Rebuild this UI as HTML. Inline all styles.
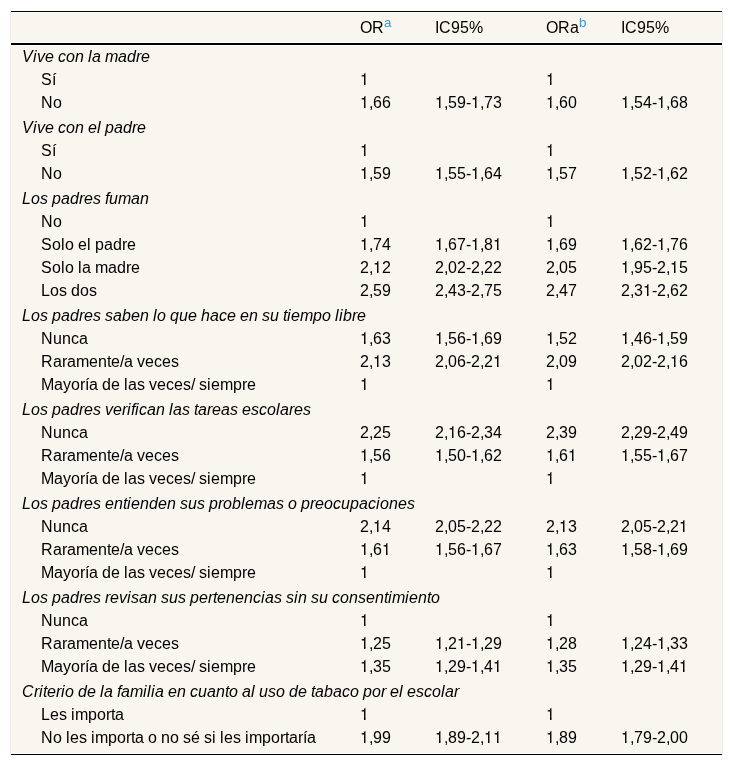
<!DOCTYPE html>
<html><head><meta charset="utf-8"><title>Tabla</title><style>
html,body{margin:0;padding:0;background:#fff;width:733px;height:766px;overflow:hidden}
body{position:relative;font-family:"Liberation Sans",sans-serif;font-size:16px;color:#000;-webkit-font-smoothing:antialiased}
.t{position:absolute;white-space:nowrap;line-height:20px;height:20px;will-change:transform}
.i{font-style:italic}
b{display:inline-block;font-weight:normal;white-space:pre;overflow:visible}
.w4{width:4px}.w5{width:5px}.w8{width:8px}.w9{width:9px}.w11{width:11px}.w12{width:12px}.w13{width:13px}.w14{width:14px}
.o{position:relative}
.o:before{content:"";position:absolute;left:1px;top:3px;width:8px;height:12px;background:linear-gradient(rgba(0,0,0,0.31),rgba(0,0,0,0.31)) 0px 2px/1px 1px no-repeat,linear-gradient(rgba(0,0,0,0.84),rgba(0,0,0,0.84)) 1px 2px/1px 1px no-repeat,linear-gradient(rgba(0,0,0,0.98),rgba(0,0,0,0.98)) 2px 2px/1px 1px no-repeat,linear-gradient(rgba(0,0,0,0.12),rgba(0,0,0,0.12)) 0px 3px/1px 1px no-repeat,linear-gradient(rgba(0,0,0,0.47),rgba(0,0,0,0.47)) 1px 3px/1px 1px no-repeat,linear-gradient(rgba(0,0,0,0.55),rgba(0,0,0,0.55)) 2px 3px/1px 1px no-repeat,linear-gradient(rgba(248,246,239,0.5),rgba(248,246,239,0.5)) 3px 0px/1px 1px no-repeat,linear-gradient(#f8f6ef,#f8f6ef) 0px 0px/3px 4px no-repeat,linear-gradient(#f8f6ef,#f8f6ef) 0px 10px/3px 2px no-repeat,linear-gradient(#f8f6ef,#f8f6ef) 5px 10px/3px 2px no-repeat}
.o:after{content:"";position:absolute;left:5px;top:14px;width:1px;height:1px;background:rgba(248,246,239,0.57)}
.sup{color:#3498db;font-size:13.333px;position:relative;top:-6px}
.bg{position:absolute;left:11px;top:12px;width:711px;height:743px;background:#f8f6ef}
.k{position:absolute;left:11px;width:711px;background:#000}
.w{position:absolute;left:11px;width:711px;background:#fff}
.g{position:absolute;width:1px;background:#ececec;top:12px;height:743px}
</style></head><body>
<div class="g" style="left:10px"></div>
<div class="g" style="left:722px"></div>
<div class="bg"></div>
<div class="k" style="top:11px;height:1px"></div>
<div class="w" style="top:12px;height:1px"></div>
<div class="w" style="top:42px;height:4px;left:10px;width:713px"></div>
<div class="k" style="top:43px;height:2px"></div>
<div class="w" style="top:753px;height:1px"></div>
<div class="k" style="top:754px;height:1px"></div>
<div class="t" style="left:360px;top:18px"><b class="w12">O</b><b class="w12">R</b><span class="sup">a</span></div>
<div class="t" style="left:435px;top:18px"><b class="w4">I</b><b class="w12">C</b><b class="w9">9</b><b class="w9">5</b><b class="w14">%</b></div>
<div class="t" style="left:546px;top:18px"><b class="w12">O</b><b class="w12">R</b><b class="w9">a</b><span class="sup">b</span></div>
<div class="t" style="left:621px;top:18px"><b class="w4">I</b><b class="w12">C</b><b class="w9">9</b><b class="w9">5</b><b class="w14">%</b></div>
<div class="t i" style="left:22px;top:47px"><b class="w11">V</b><b class="w4">i</b><b class="w8">v</b><b class="w9">e</b><b class="w4">&nbsp;</b><b class="w8">c</b><b class="w9">o</b><b class="w9">n</b><b class="w4">&nbsp;</b><b class="w4">l</b><b class="w9">a</b><b class="w4">&nbsp;</b><b class="w13">m</b><b class="w9">a</b><b class="w9">d</b><b class="w5">r</b><b class="w9">e</b></div>
<div class="t" style="left:41px;top:70px"><b class="w11">S</b><b class="w4">í</b></div>
<div class="t" style="left:360px;top:70px"><b class="w9 o">1</b></div>
<div class="t" style="left:546px;top:70px"><b class="w9 o">1</b></div>
<div class="t" style="left:41px;top:93px"><b class="w12">N</b><b class="w9">o</b></div>
<div class="t" style="left:360px;top:93px"><b class="w9 o">1</b><b class="w4">,</b><b class="w9">6</b><b class="w9">6</b></div>
<div class="t" style="left:435px;top:93px"><b class="w9 o">1</b><b class="w4">,</b><b class="w9">5</b><b class="w9">9</b><b class="w5">-</b><b class="w9 o">1</b><b class="w4">,</b><b class="w9">7</b><b class="w9">3</b></div>
<div class="t" style="left:546px;top:93px"><b class="w9 o">1</b><b class="w4">,</b><b class="w9">6</b><b class="w9">0</b></div>
<div class="t" style="left:621px;top:93px"><b class="w9 o">1</b><b class="w4">,</b><b class="w9">5</b><b class="w9">4</b><b class="w5">-</b><b class="w9 o">1</b><b class="w4">,</b><b class="w9">6</b><b class="w9">8</b></div>
<div class="t i" style="left:22px;top:118px"><b class="w11">V</b><b class="w4">i</b><b class="w8">v</b><b class="w9">e</b><b class="w4">&nbsp;</b><b class="w8">c</b><b class="w9">o</b><b class="w9">n</b><b class="w4">&nbsp;</b><b class="w9">e</b><b class="w4">l</b><b class="w4">&nbsp;</b><b class="w9">p</b><b class="w9">a</b><b class="w9">d</b><b class="w5">r</b><b class="w9">e</b></div>
<div class="t" style="left:41px;top:141px"><b class="w11">S</b><b class="w4">í</b></div>
<div class="t" style="left:360px;top:141px"><b class="w9 o">1</b></div>
<div class="t" style="left:546px;top:141px"><b class="w9 o">1</b></div>
<div class="t" style="left:41px;top:164px"><b class="w12">N</b><b class="w9">o</b></div>
<div class="t" style="left:360px;top:164px"><b class="w9 o">1</b><b class="w4">,</b><b class="w9">5</b><b class="w9">9</b></div>
<div class="t" style="left:435px;top:164px"><b class="w9 o">1</b><b class="w4">,</b><b class="w9">5</b><b class="w9">5</b><b class="w5">-</b><b class="w9 o">1</b><b class="w4">,</b><b class="w9">6</b><b class="w9">4</b></div>
<div class="t" style="left:546px;top:164px"><b class="w9 o">1</b><b class="w4">,</b><b class="w9">5</b><b class="w9">7</b></div>
<div class="t" style="left:621px;top:164px"><b class="w9 o">1</b><b class="w4">,</b><b class="w9">5</b><b class="w9">2</b><b class="w5">-</b><b class="w9 o">1</b><b class="w4">,</b><b class="w9">6</b><b class="w9">2</b></div>
<div class="t i" style="left:22px;top:189px"><b class="w9">L</b><b class="w9">o</b><b class="w8">s</b><b class="w4">&nbsp;</b><b class="w9">p</b><b class="w9">a</b><b class="w9">d</b><b class="w5">r</b><b class="w9">e</b><b class="w8">s</b><b class="w4">&nbsp;</b><b class="w4">f</b><b class="w9">u</b><b class="w13">m</b><b class="w9">a</b><b class="w9">n</b></div>
<div class="t" style="left:41px;top:212px"><b class="w12">N</b><b class="w9">o</b></div>
<div class="t" style="left:360px;top:212px"><b class="w9 o">1</b></div>
<div class="t" style="left:546px;top:212px"><b class="w9 o">1</b></div>
<div class="t" style="left:41px;top:235px"><b class="w11">S</b><b class="w9">o</b><b class="w4">l</b><b class="w9">o</b><b class="w4">&nbsp;</b><b class="w9">e</b><b class="w4">l</b><b class="w4">&nbsp;</b><b class="w9">p</b><b class="w9">a</b><b class="w9">d</b><b class="w5">r</b><b class="w9">e</b></div>
<div class="t" style="left:360px;top:235px"><b class="w9 o">1</b><b class="w4">,</b><b class="w9">7</b><b class="w9">4</b></div>
<div class="t" style="left:435px;top:235px"><b class="w9 o">1</b><b class="w4">,</b><b class="w9">6</b><b class="w9">7</b><b class="w5">-</b><b class="w9 o">1</b><b class="w4">,</b><b class="w9">8</b><b class="w9 o">1</b></div>
<div class="t" style="left:546px;top:235px"><b class="w9 o">1</b><b class="w4">,</b><b class="w9">6</b><b class="w9">9</b></div>
<div class="t" style="left:621px;top:235px"><b class="w9 o">1</b><b class="w4">,</b><b class="w9">6</b><b class="w9">2</b><b class="w5">-</b><b class="w9 o">1</b><b class="w4">,</b><b class="w9">7</b><b class="w9">6</b></div>
<div class="t" style="left:41px;top:258px"><b class="w11">S</b><b class="w9">o</b><b class="w4">l</b><b class="w9">o</b><b class="w4">&nbsp;</b><b class="w4">l</b><b class="w9">a</b><b class="w4">&nbsp;</b><b class="w13">m</b><b class="w9">a</b><b class="w9">d</b><b class="w5">r</b><b class="w9">e</b></div>
<div class="t" style="left:360px;top:258px"><b class="w9">2</b><b class="w4">,</b><b class="w9 o">1</b><b class="w9">2</b></div>
<div class="t" style="left:435px;top:258px"><b class="w9">2</b><b class="w4">,</b><b class="w9">0</b><b class="w9">2</b><b class="w5">-</b><b class="w9">2</b><b class="w4">,</b><b class="w9">2</b><b class="w9">2</b></div>
<div class="t" style="left:546px;top:258px"><b class="w9">2</b><b class="w4">,</b><b class="w9">0</b><b class="w9">5</b></div>
<div class="t" style="left:621px;top:258px"><b class="w9 o">1</b><b class="w4">,</b><b class="w9">9</b><b class="w9">5</b><b class="w5">-</b><b class="w9">2</b><b class="w4">,</b><b class="w9 o">1</b><b class="w9">5</b></div>
<div class="t" style="left:41px;top:281px"><b class="w9">L</b><b class="w9">o</b><b class="w8">s</b><b class="w4">&nbsp;</b><b class="w9">d</b><b class="w9">o</b><b class="w8">s</b></div>
<div class="t" style="left:360px;top:281px"><b class="w9">2</b><b class="w4">,</b><b class="w9">5</b><b class="w9">9</b></div>
<div class="t" style="left:435px;top:281px"><b class="w9">2</b><b class="w4">,</b><b class="w9">4</b><b class="w9">3</b><b class="w5">-</b><b class="w9">2</b><b class="w4">,</b><b class="w9">7</b><b class="w9">5</b></div>
<div class="t" style="left:546px;top:281px"><b class="w9">2</b><b class="w4">,</b><b class="w9">4</b><b class="w9">7</b></div>
<div class="t" style="left:621px;top:281px"><b class="w9">2</b><b class="w4">,</b><b class="w9">3</b><b class="w9 o">1</b><b class="w5">-</b><b class="w9">2</b><b class="w4">,</b><b class="w9">6</b><b class="w9">2</b></div>
<div class="t i" style="left:22px;top:306px"><b class="w9">L</b><b class="w9">o</b><b class="w8">s</b><b class="w4">&nbsp;</b><b class="w9">p</b><b class="w9">a</b><b class="w9">d</b><b class="w5">r</b><b class="w9">e</b><b class="w8">s</b><b class="w4">&nbsp;</b><b class="w8">s</b><b class="w9">a</b><b class="w9">b</b><b class="w9">e</b><b class="w9">n</b><b class="w4">&nbsp;</b><b class="w4">l</b><b class="w9">o</b><b class="w4">&nbsp;</b><b class="w9">q</b><b class="w9">u</b><b class="w9">e</b><b class="w4">&nbsp;</b><b class="w9">h</b><b class="w9">a</b><b class="w8">c</b><b class="w9">e</b><b class="w4">&nbsp;</b><b class="w9">e</b><b class="w9">n</b><b class="w4">&nbsp;</b><b class="w8">s</b><b class="w9">u</b><b class="w4">&nbsp;</b><b class="w4">t</b><b class="w4">i</b><b class="w9">e</b><b class="w13">m</b><b class="w9">p</b><b class="w9">o</b><b class="w4">&nbsp;</b><b class="w4">l</b><b class="w4">i</b><b class="w9">b</b><b class="w5">r</b><b class="w9">e</b></div>
<div class="t" style="left:41px;top:329px"><b class="w12">N</b><b class="w9">u</b><b class="w9">n</b><b class="w8">c</b><b class="w9">a</b></div>
<div class="t" style="left:360px;top:329px"><b class="w9 o">1</b><b class="w4">,</b><b class="w9">6</b><b class="w9">3</b></div>
<div class="t" style="left:435px;top:329px"><b class="w9 o">1</b><b class="w4">,</b><b class="w9">5</b><b class="w9">6</b><b class="w5">-</b><b class="w9 o">1</b><b class="w4">,</b><b class="w9">6</b><b class="w9">9</b></div>
<div class="t" style="left:546px;top:329px"><b class="w9 o">1</b><b class="w4">,</b><b class="w9">5</b><b class="w9">2</b></div>
<div class="t" style="left:621px;top:329px"><b class="w9 o">1</b><b class="w4">,</b><b class="w9">4</b><b class="w9">6</b><b class="w5">-</b><b class="w9 o">1</b><b class="w4">,</b><b class="w9">5</b><b class="w9">9</b></div>
<div class="t" style="left:41px;top:352px"><b class="w12">R</b><b class="w9">a</b><b class="w5">r</b><b class="w9">a</b><b class="w13">m</b><b class="w9">e</b><b class="w9">n</b><b class="w4">t</b><b class="w9">e</b><b class="w4">/</b><b class="w9">a</b><b class="w4">&nbsp;</b><b class="w8">v</b><b class="w9">e</b><b class="w8">c</b><b class="w9">e</b><b class="w8">s</b></div>
<div class="t" style="left:360px;top:352px"><b class="w9">2</b><b class="w4">,</b><b class="w9 o">1</b><b class="w9">3</b></div>
<div class="t" style="left:435px;top:352px"><b class="w9">2</b><b class="w4">,</b><b class="w9">0</b><b class="w9">6</b><b class="w5">-</b><b class="w9">2</b><b class="w4">,</b><b class="w9">2</b><b class="w9 o">1</b></div>
<div class="t" style="left:546px;top:352px"><b class="w9">2</b><b class="w4">,</b><b class="w9">0</b><b class="w9">9</b></div>
<div class="t" style="left:621px;top:352px"><b class="w9">2</b><b class="w4">,</b><b class="w9">0</b><b class="w9">2</b><b class="w5">-</b><b class="w9">2</b><b class="w4">,</b><b class="w9 o">1</b><b class="w9">6</b></div>
<div class="t" style="left:41px;top:375px"><b class="w13">M</b><b class="w9">a</b><b class="w8">y</b><b class="w9">o</b><b class="w5">r</b><b class="w4">í</b><b class="w9">a</b><b class="w4">&nbsp;</b><b class="w9">d</b><b class="w9">e</b><b class="w4">&nbsp;</b><b class="w4">l</b><b class="w9">a</b><b class="w8">s</b><b class="w4">&nbsp;</b><b class="w8">v</b><b class="w9">e</b><b class="w8">c</b><b class="w9">e</b><b class="w8">s</b><b class="w4">/</b><b class="w4">&nbsp;</b><b class="w8">s</b><b class="w4">i</b><b class="w9">e</b><b class="w13">m</b><b class="w9">p</b><b class="w5">r</b><b class="w9">e</b></div>
<div class="t" style="left:360px;top:375px"><b class="w9 o">1</b></div>
<div class="t" style="left:546px;top:375px"><b class="w9 o">1</b></div>
<div class="t i" style="left:22px;top:400px"><b class="w9">L</b><b class="w9">o</b><b class="w8">s</b><b class="w4">&nbsp;</b><b class="w9">p</b><b class="w9">a</b><b class="w9">d</b><b class="w5">r</b><b class="w9">e</b><b class="w8">s</b><b class="w4">&nbsp;</b><b class="w8">v</b><b class="w9">e</b><b class="w5">r</b><b class="w4">i</b><b class="w4">f</b><b class="w4">i</b><b class="w8">c</b><b class="w9">a</b><b class="w9">n</b><b class="w4">&nbsp;</b><b class="w4">l</b><b class="w9">a</b><b class="w8">s</b><b class="w4">&nbsp;</b><b class="w4">t</b><b class="w9">a</b><b class="w5">r</b><b class="w9">e</b><b class="w9">a</b><b class="w8">s</b><b class="w4">&nbsp;</b><b class="w9">e</b><b class="w8">s</b><b class="w8">c</b><b class="w9">o</b><b class="w4">l</b><b class="w9">a</b><b class="w5">r</b><b class="w9">e</b><b class="w8">s</b></div>
<div class="t" style="left:41px;top:423px"><b class="w12">N</b><b class="w9">u</b><b class="w9">n</b><b class="w8">c</b><b class="w9">a</b></div>
<div class="t" style="left:360px;top:423px"><b class="w9">2</b><b class="w4">,</b><b class="w9">2</b><b class="w9">5</b></div>
<div class="t" style="left:435px;top:423px"><b class="w9">2</b><b class="w4">,</b><b class="w9 o">1</b><b class="w9">6</b><b class="w5">-</b><b class="w9">2</b><b class="w4">,</b><b class="w9">3</b><b class="w9">4</b></div>
<div class="t" style="left:546px;top:423px"><b class="w9">2</b><b class="w4">,</b><b class="w9">3</b><b class="w9">9</b></div>
<div class="t" style="left:621px;top:423px"><b class="w9">2</b><b class="w4">,</b><b class="w9">2</b><b class="w9">9</b><b class="w5">-</b><b class="w9">2</b><b class="w4">,</b><b class="w9">4</b><b class="w9">9</b></div>
<div class="t" style="left:41px;top:446px"><b class="w12">R</b><b class="w9">a</b><b class="w5">r</b><b class="w9">a</b><b class="w13">m</b><b class="w9">e</b><b class="w9">n</b><b class="w4">t</b><b class="w9">e</b><b class="w4">/</b><b class="w9">a</b><b class="w4">&nbsp;</b><b class="w8">v</b><b class="w9">e</b><b class="w8">c</b><b class="w9">e</b><b class="w8">s</b></div>
<div class="t" style="left:360px;top:446px"><b class="w9 o">1</b><b class="w4">,</b><b class="w9">5</b><b class="w9">6</b></div>
<div class="t" style="left:435px;top:446px"><b class="w9 o">1</b><b class="w4">,</b><b class="w9">5</b><b class="w9">0</b><b class="w5">-</b><b class="w9 o">1</b><b class="w4">,</b><b class="w9">6</b><b class="w9">2</b></div>
<div class="t" style="left:546px;top:446px"><b class="w9 o">1</b><b class="w4">,</b><b class="w9">6</b><b class="w9 o">1</b></div>
<div class="t" style="left:621px;top:446px"><b class="w9 o">1</b><b class="w4">,</b><b class="w9">5</b><b class="w9">5</b><b class="w5">-</b><b class="w9 o">1</b><b class="w4">,</b><b class="w9">6</b><b class="w9">7</b></div>
<div class="t" style="left:41px;top:469px"><b class="w13">M</b><b class="w9">a</b><b class="w8">y</b><b class="w9">o</b><b class="w5">r</b><b class="w4">í</b><b class="w9">a</b><b class="w4">&nbsp;</b><b class="w9">d</b><b class="w9">e</b><b class="w4">&nbsp;</b><b class="w4">l</b><b class="w9">a</b><b class="w8">s</b><b class="w4">&nbsp;</b><b class="w8">v</b><b class="w9">e</b><b class="w8">c</b><b class="w9">e</b><b class="w8">s</b><b class="w4">/</b><b class="w4">&nbsp;</b><b class="w8">s</b><b class="w4">i</b><b class="w9">e</b><b class="w13">m</b><b class="w9">p</b><b class="w5">r</b><b class="w9">e</b></div>
<div class="t" style="left:360px;top:469px"><b class="w9 o">1</b></div>
<div class="t" style="left:546px;top:469px"><b class="w9 o">1</b></div>
<div class="t i" style="left:22px;top:494px"><b class="w9">L</b><b class="w9">o</b><b class="w8">s</b><b class="w4">&nbsp;</b><b class="w9">p</b><b class="w9">a</b><b class="w9">d</b><b class="w5">r</b><b class="w9">e</b><b class="w8">s</b><b class="w4">&nbsp;</b><b class="w9">e</b><b class="w9">n</b><b class="w4">t</b><b class="w4">i</b><b class="w9">e</b><b class="w9">n</b><b class="w9">d</b><b class="w9">e</b><b class="w9">n</b><b class="w4">&nbsp;</b><b class="w8">s</b><b class="w9">u</b><b class="w8">s</b><b class="w4">&nbsp;</b><b class="w9">p</b><b class="w5">r</b><b class="w9">o</b><b class="w9">b</b><b class="w4">l</b><b class="w9">e</b><b class="w13">m</b><b class="w9">a</b><b class="w8">s</b><b class="w4">&nbsp;</b><b class="w9">o</b><b class="w4">&nbsp;</b><b class="w9">p</b><b class="w5">r</b><b class="w9">e</b><b class="w9">o</b><b class="w8">c</b><b class="w9">u</b><b class="w9">p</b><b class="w9">a</b><b class="w8">c</b><b class="w4">i</b><b class="w9">o</b><b class="w9">n</b><b class="w9">e</b><b class="w8">s</b></div>
<div class="t" style="left:41px;top:517px"><b class="w12">N</b><b class="w9">u</b><b class="w9">n</b><b class="w8">c</b><b class="w9">a</b></div>
<div class="t" style="left:360px;top:517px"><b class="w9">2</b><b class="w4">,</b><b class="w9 o">1</b><b class="w9">4</b></div>
<div class="t" style="left:435px;top:517px"><b class="w9">2</b><b class="w4">,</b><b class="w9">0</b><b class="w9">5</b><b class="w5">-</b><b class="w9">2</b><b class="w4">,</b><b class="w9">2</b><b class="w9">2</b></div>
<div class="t" style="left:546px;top:517px"><b class="w9">2</b><b class="w4">,</b><b class="w9 o">1</b><b class="w9">3</b></div>
<div class="t" style="left:621px;top:517px"><b class="w9">2</b><b class="w4">,</b><b class="w9">0</b><b class="w9">5</b><b class="w5">-</b><b class="w9">2</b><b class="w4">,</b><b class="w9">2</b><b class="w9 o">1</b></div>
<div class="t" style="left:41px;top:540px"><b class="w12">R</b><b class="w9">a</b><b class="w5">r</b><b class="w9">a</b><b class="w13">m</b><b class="w9">e</b><b class="w9">n</b><b class="w4">t</b><b class="w9">e</b><b class="w4">/</b><b class="w9">a</b><b class="w4">&nbsp;</b><b class="w8">v</b><b class="w9">e</b><b class="w8">c</b><b class="w9">e</b><b class="w8">s</b></div>
<div class="t" style="left:360px;top:540px"><b class="w9 o">1</b><b class="w4">,</b><b class="w9">6</b><b class="w9 o">1</b></div>
<div class="t" style="left:435px;top:540px"><b class="w9 o">1</b><b class="w4">,</b><b class="w9">5</b><b class="w9">6</b><b class="w5">-</b><b class="w9 o">1</b><b class="w4">,</b><b class="w9">6</b><b class="w9">7</b></div>
<div class="t" style="left:546px;top:540px"><b class="w9 o">1</b><b class="w4">,</b><b class="w9">6</b><b class="w9">3</b></div>
<div class="t" style="left:621px;top:540px"><b class="w9 o">1</b><b class="w4">,</b><b class="w9">5</b><b class="w9">8</b><b class="w5">-</b><b class="w9 o">1</b><b class="w4">,</b><b class="w9">6</b><b class="w9">9</b></div>
<div class="t" style="left:41px;top:563px"><b class="w13">M</b><b class="w9">a</b><b class="w8">y</b><b class="w9">o</b><b class="w5">r</b><b class="w4">í</b><b class="w9">a</b><b class="w4">&nbsp;</b><b class="w9">d</b><b class="w9">e</b><b class="w4">&nbsp;</b><b class="w4">l</b><b class="w9">a</b><b class="w8">s</b><b class="w4">&nbsp;</b><b class="w8">v</b><b class="w9">e</b><b class="w8">c</b><b class="w9">e</b><b class="w8">s</b><b class="w4">/</b><b class="w4">&nbsp;</b><b class="w8">s</b><b class="w4">i</b><b class="w9">e</b><b class="w13">m</b><b class="w9">p</b><b class="w5">r</b><b class="w9">e</b></div>
<div class="t" style="left:360px;top:563px"><b class="w9 o">1</b></div>
<div class="t" style="left:546px;top:563px"><b class="w9 o">1</b></div>
<div class="t i" style="left:22px;top:588px"><b class="w9">L</b><b class="w9">o</b><b class="w8">s</b><b class="w4">&nbsp;</b><b class="w9">p</b><b class="w9">a</b><b class="w9">d</b><b class="w5">r</b><b class="w9">e</b><b class="w8">s</b><b class="w4">&nbsp;</b><b class="w5">r</b><b class="w9">e</b><b class="w8">v</b><b class="w4">i</b><b class="w8">s</b><b class="w9">a</b><b class="w9">n</b><b class="w4">&nbsp;</b><b class="w8">s</b><b class="w9">u</b><b class="w8">s</b><b class="w4">&nbsp;</b><b class="w9">p</b><b class="w9">e</b><b class="w5">r</b><b class="w4">t</b><b class="w9">e</b><b class="w9">n</b><b class="w9">e</b><b class="w9">n</b><b class="w8">c</b><b class="w4">i</b><b class="w9">a</b><b class="w8">s</b><b class="w4">&nbsp;</b><b class="w8">s</b><b class="w4">i</b><b class="w9">n</b><b class="w4">&nbsp;</b><b class="w8">s</b><b class="w9">u</b><b class="w4">&nbsp;</b><b class="w8">c</b><b class="w9">o</b><b class="w9">n</b><b class="w8">s</b><b class="w9">e</b><b class="w9">n</b><b class="w4">t</b><b class="w4">i</b><b class="w13">m</b><b class="w4">i</b><b class="w9">e</b><b class="w9">n</b><b class="w4">t</b><b class="w9">o</b></div>
<div class="t" style="left:41px;top:611px"><b class="w12">N</b><b class="w9">u</b><b class="w9">n</b><b class="w8">c</b><b class="w9">a</b></div>
<div class="t" style="left:360px;top:611px"><b class="w9 o">1</b></div>
<div class="t" style="left:546px;top:611px"><b class="w9 o">1</b></div>
<div class="t" style="left:41px;top:634px"><b class="w12">R</b><b class="w9">a</b><b class="w5">r</b><b class="w9">a</b><b class="w13">m</b><b class="w9">e</b><b class="w9">n</b><b class="w4">t</b><b class="w9">e</b><b class="w4">/</b><b class="w9">a</b><b class="w4">&nbsp;</b><b class="w8">v</b><b class="w9">e</b><b class="w8">c</b><b class="w9">e</b><b class="w8">s</b></div>
<div class="t" style="left:360px;top:634px"><b class="w9 o">1</b><b class="w4">,</b><b class="w9">2</b><b class="w9">5</b></div>
<div class="t" style="left:435px;top:634px"><b class="w9 o">1</b><b class="w4">,</b><b class="w9">2</b><b class="w9 o">1</b><b class="w5">-</b><b class="w9 o">1</b><b class="w4">,</b><b class="w9">2</b><b class="w9">9</b></div>
<div class="t" style="left:546px;top:634px"><b class="w9 o">1</b><b class="w4">,</b><b class="w9">2</b><b class="w9">8</b></div>
<div class="t" style="left:621px;top:634px"><b class="w9 o">1</b><b class="w4">,</b><b class="w9">2</b><b class="w9">4</b><b class="w5">-</b><b class="w9 o">1</b><b class="w4">,</b><b class="w9">3</b><b class="w9">3</b></div>
<div class="t" style="left:41px;top:657px"><b class="w13">M</b><b class="w9">a</b><b class="w8">y</b><b class="w9">o</b><b class="w5">r</b><b class="w4">í</b><b class="w9">a</b><b class="w4">&nbsp;</b><b class="w9">d</b><b class="w9">e</b><b class="w4">&nbsp;</b><b class="w4">l</b><b class="w9">a</b><b class="w8">s</b><b class="w4">&nbsp;</b><b class="w8">v</b><b class="w9">e</b><b class="w8">c</b><b class="w9">e</b><b class="w8">s</b><b class="w4">/</b><b class="w4">&nbsp;</b><b class="w8">s</b><b class="w4">i</b><b class="w9">e</b><b class="w13">m</b><b class="w9">p</b><b class="w5">r</b><b class="w9">e</b></div>
<div class="t" style="left:360px;top:657px"><b class="w9 o">1</b><b class="w4">,</b><b class="w9">3</b><b class="w9">5</b></div>
<div class="t" style="left:435px;top:657px"><b class="w9 o">1</b><b class="w4">,</b><b class="w9">2</b><b class="w9">9</b><b class="w5">-</b><b class="w9 o">1</b><b class="w4">,</b><b class="w9">4</b><b class="w9 o">1</b></div>
<div class="t" style="left:546px;top:657px"><b class="w9 o">1</b><b class="w4">,</b><b class="w9">3</b><b class="w9">5</b></div>
<div class="t" style="left:621px;top:657px"><b class="w9 o">1</b><b class="w4">,</b><b class="w9">2</b><b class="w9">9</b><b class="w5">-</b><b class="w9 o">1</b><b class="w4">,</b><b class="w9">4</b><b class="w9 o">1</b></div>
<div class="t i" style="left:22px;top:682px"><b class="w12">C</b><b class="w5">r</b><b class="w4">i</b><b class="w4">t</b><b class="w9">e</b><b class="w5">r</b><b class="w4">i</b><b class="w9">o</b><b class="w4">&nbsp;</b><b class="w9">d</b><b class="w9">e</b><b class="w4">&nbsp;</b><b class="w4">l</b><b class="w9">a</b><b class="w4">&nbsp;</b><b class="w4">f</b><b class="w9">a</b><b class="w13">m</b><b class="w4">i</b><b class="w4">l</b><b class="w4">i</b><b class="w9">a</b><b class="w4">&nbsp;</b><b class="w9">e</b><b class="w9">n</b><b class="w4">&nbsp;</b><b class="w8">c</b><b class="w9">u</b><b class="w9">a</b><b class="w9">n</b><b class="w4">t</b><b class="w9">o</b><b class="w4">&nbsp;</b><b class="w9">a</b><b class="w4">l</b><b class="w4">&nbsp;</b><b class="w9">u</b><b class="w8">s</b><b class="w9">o</b><b class="w4">&nbsp;</b><b class="w9">d</b><b class="w9">e</b><b class="w4">&nbsp;</b><b class="w4">t</b><b class="w9">a</b><b class="w9">b</b><b class="w9">a</b><b class="w8">c</b><b class="w9">o</b><b class="w4">&nbsp;</b><b class="w9">p</b><b class="w9">o</b><b class="w5">r</b><b class="w4">&nbsp;</b><b class="w9">e</b><b class="w4">l</b><b class="w4">&nbsp;</b><b class="w9">e</b><b class="w8">s</b><b class="w8">c</b><b class="w9">o</b><b class="w4">l</b><b class="w9">a</b><b class="w5">r</b></div>
<div class="t" style="left:41px;top:705px"><b class="w9">L</b><b class="w9">e</b><b class="w8">s</b><b class="w4">&nbsp;</b><b class="w4">i</b><b class="w13">m</b><b class="w9">p</b><b class="w9">o</b><b class="w5">r</b><b class="w4">t</b><b class="w9">a</b></div>
<div class="t" style="left:360px;top:705px"><b class="w9 o">1</b></div>
<div class="t" style="left:546px;top:705px"><b class="w9 o">1</b></div>
<div class="t" style="left:41px;top:728px"><b class="w12">N</b><b class="w9">o</b><b class="w4">&nbsp;</b><b class="w4">l</b><b class="w9">e</b><b class="w8">s</b><b class="w4">&nbsp;</b><b class="w4">i</b><b class="w13">m</b><b class="w9">p</b><b class="w9">o</b><b class="w5">r</b><b class="w4">t</b><b class="w9">a</b><b class="w4">&nbsp;</b><b class="w9">o</b><b class="w4">&nbsp;</b><b class="w9">n</b><b class="w9">o</b><b class="w4">&nbsp;</b><b class="w8">s</b><b class="w9">é</b><b class="w4">&nbsp;</b><b class="w8">s</b><b class="w4">i</b><b class="w4">&nbsp;</b><b class="w4">l</b><b class="w9">e</b><b class="w8">s</b><b class="w4">&nbsp;</b><b class="w4">i</b><b class="w13">m</b><b class="w9">p</b><b class="w9">o</b><b class="w5">r</b><b class="w4">t</b><b class="w9">a</b><b class="w5">r</b><b class="w4">í</b><b class="w9">a</b></div>
<div class="t" style="left:360px;top:728px"><b class="w9 o">1</b><b class="w4">,</b><b class="w9">9</b><b class="w9">9</b></div>
<div class="t" style="left:435px;top:728px"><b class="w9 o">1</b><b class="w4">,</b><b class="w9">8</b><b class="w9">9</b><b class="w5">-</b><b class="w9">2</b><b class="w4">,</b><b class="w9 o">1</b><b class="w9 o">1</b></div>
<div class="t" style="left:546px;top:728px"><b class="w9 o">1</b><b class="w4">,</b><b class="w9">8</b><b class="w9">9</b></div>
<div class="t" style="left:621px;top:728px"><b class="w9 o">1</b><b class="w4">,</b><b class="w9">7</b><b class="w9">9</b><b class="w5">-</b><b class="w9">2</b><b class="w4">,</b><b class="w9">0</b><b class="w9">0</b></div>
</body></html>
